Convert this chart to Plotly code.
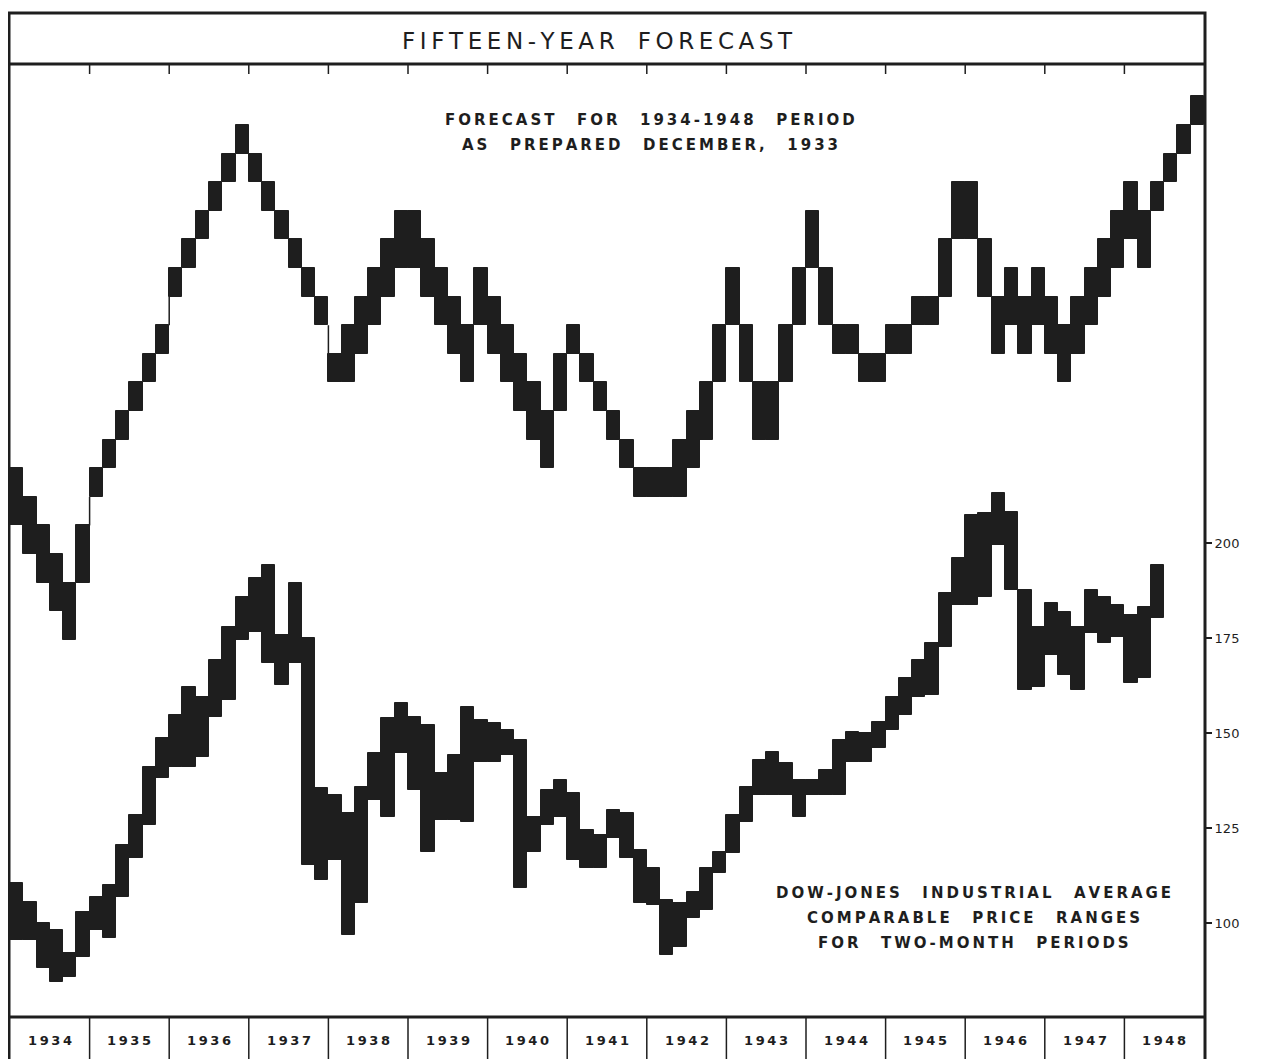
import plotly.graph_objects as go

# --- data ---
years = list(range(1934, 1949))

# forecast drawn in equal "step" units (no scale on the original), high/low per two-month period
fc_high = [6, 5, 4, 3, 2, 4, 6, 7, 8, 9,
           10, 11, 13, 14, 15, 16, 17, 18, 17, 16,
           15, 14, 13, 12, 10, 11, 12, 13, 14, 15,
           15, 14, 13, 12, 11, 13, 12, 11, 10, 9,
           8, 10, 11, 10, 9, 8, 7, 6, 6, 6,
           7, 8, 9, 11, 13, 11, 9, 9, 11, 13,
           15, 13, 11, 11, 10, 10, 11, 11, 12, 12,
           14, 16, 16, 14, 12, 13, 12, 13, 12, 11,
           12, 13, 14, 15, 16, 15, 16, 17, 18, 19]
fc_low = [4, 3, 2, 1, 0, 2, 5, 6, 7, 8,
          9, 10, 12, 13, 14, 15, 16, 17, 16, 15,
          14, 13, 12, 11, 9, 9, 10, 11, 12, 13,
          13, 12, 11, 10, 9, 11, 10, 9, 8, 7,
          6, 8, 10, 9, 8, 7, 6, 5, 5, 5,
          5, 6, 7, 9, 11, 9, 7, 7, 9, 11,
          13, 11, 10, 10, 9, 9, 10, 10, 11, 11,
          12, 14, 14, 12, 10, 11, 10, 11, 10, 9,
          10, 11, 12, 13, 14, 13, 15, 16, 17, 18]

# Dow-Jones Industrial Average, two-month ranges (Jan 1934 - Jun 1948)
dj_high = [110.5, 105.5, 100.0, 98.2, 92.1, 102.9, 106.8, 110.0, 120.5, 128.4,
           141.1, 148.7, 154.7, 162.1, 159.5, 169.2, 177.9, 185.8, 190.8, 194.2,
           175.8, 189.5, 175.0, 135.5, 133.7, 128.9, 135.8, 144.7, 153.9, 157.9,
           154.2, 152.1, 139.5, 144.2, 156.8, 153.4, 152.6, 150.8, 148.2, 127.9,
           135.0, 137.6, 134.2, 124.5, 123.2, 129.7, 128.9, 119.2, 114.5, 106.1,
           105.3, 108.2, 114.5, 118.7, 128.4, 135.8, 142.9, 145.0, 142.1, 137.6,
           137.6, 140.3, 148.2, 150.3, 150.0, 152.9, 159.5, 164.5, 169.2, 173.7,
           186.8, 196.1, 207.4, 207.9, 213.2, 208.2, 187.6, 177.9, 184.2, 181.8,
           177.9, 187.6, 185.8, 183.7, 181.1, 183.2, 194.2]
dj_low = [95.5, 95.5, 88.2, 84.5, 85.8, 91.1, 98.2, 96.1, 106.8, 117.1,
          125.8, 138.2, 141.1, 141.1, 143.7, 154.2, 158.7, 174.5, 176.6, 168.4,
          162.6, 168.4, 115.3, 111.3, 116.6, 96.8, 105.3, 132.4, 127.9, 144.7,
          135.0, 118.7, 127.1, 127.1, 126.6, 142.4, 142.4, 144.2, 109.2, 118.7,
          125.8, 127.9, 116.6, 114.5, 114.5, 122.4, 117.1, 105.3, 104.7, 91.6,
          93.7, 101.3, 103.4, 113.2, 118.4, 126.6, 133.7, 133.7, 133.7, 127.9,
          133.7, 133.7, 133.7, 142.4, 142.4, 146.1, 150.8, 154.7, 159.5, 160.0,
          172.6, 183.7, 183.7, 185.8, 199.5, 187.6, 161.3, 162.1, 170.5, 165.3,
          161.3, 176.3, 173.7, 175.3, 163.2, 164.5, 180.3]

dj_ticks = [100, 125, 150, 175, 200]

# --- page geometry ---
# the page body has an 8px margin, so the figure is shrunk by that and
# positions below are given in screenshot pixels
OFF = 8
W, H = 1264 - OFF, 1059 - OFF
INK = '#1e1e1e'


def fx(px):
    return (px - OFF) / W


def fy(py):
    return 1 - (py - OFF) / H


def spaced(s, gap='\u2009', word='\u2002\u2002\u2002'):
    # imitate the wide hand lettering
    return word.join(gap.join(w) for w in s.split(' '))


# period centres on a year axis
periods = [y + (p + 0.5) / 6 for y in years for p in range(6)]

fig = go.Figure()

fig.add_trace(go.Bar(
    x=periods[:len(fc_high)],
    base=fc_low,
    y=[h - l for h, l in zip(fc_high, fc_low)],
    width=1 / 6, yaxis='y2',
    marker=dict(color=INK, line=dict(width=1, color=INK)),
    name='Forecast', showlegend=False, hoverinfo='skip'
))

# thin connecting strokes where consecutive forecast ranges do not touch
cx, cy = [], []
for i in range(1, len(fc_high)):
    xb = years[0] + i / 6
    if fc_low[i - 1] > fc_high[i]:
        cx += [xb, xb, None]
        cy += [fc_low[i - 1], fc_high[i], None]
    elif fc_high[i - 1] < fc_low[i]:
        cx += [xb, xb, None]
        cy += [fc_high[i - 1], fc_low[i], None]
fig.add_trace(go.Scatter(x=cx, y=cy, mode='lines', yaxis='y2',
                         line=dict(color=INK, width=1.5),
                         showlegend=False, hoverinfo='skip'))

fig.add_trace(go.Bar(
    x=periods[:len(dj_high)],
    base=dj_low,
    y=[h - l for h, l in zip(dj_high, dj_low)],
    width=1 / 6, yaxis='y',
    marker=dict(color=INK, line=dict(width=1, color=INK)),
    name='Dow-Jones', showlegend=False, hoverinfo='skip'
))

shapes = []
# outer frame and rules
shapes.append(dict(type='rect', xref='paper', yref='paper',
                   x0=fx(9), x1=fx(1205), y0=fy(1070), y1=fy(13),
                   line=dict(color=INK, width=3)))
shapes.append(dict(type='line', xref='paper', yref='paper',
                   x0=fx(9), x1=fx(1205), y0=fy(64), y1=fy(64),
                   line=dict(color=INK, width=3)))
shapes.append(dict(type='line', xref='paper', yref='paper',
                   x0=fx(9), x1=fx(1205), y0=fy(1017), y1=fy(1017),
                   line=dict(color=INK, width=3)))
for yr in years[1:]:
    # year dividers in the bottom strip
    shapes.append(dict(type='line', xref='x', yref='paper',
                       x0=yr, x1=yr, y0=fy(1017), y1=fy(1070),
                       line=dict(color=INK, width=1.5)))
    # small ticks under the title bar
    shapes.append(dict(type='line', xref='x', yref='paper',
                       x0=yr, x1=yr, y0=fy(65), y1=fy(74),
                       line=dict(color=INK, width=1.5)))

annotations = []


def label(text, x, y, size, bold=False, xref='paper'):
    annotations.append(dict(text=text, xref=xref, yref='paper', x=x, y=y,
                            xanchor='center', yanchor='middle', showarrow=False,
                            font=dict(family='DejaVu Sans', size=size, color=INK,
                                      weight='bold' if bold else 'normal')))


label(spaced('FIFTEEN-YEAR FORECAST', word='\u2002\u2002'), fx(597), fy(41), 23)

note1 = ['FORECAST FOR 1934-1948 PERIOD', 'AS PREPARED DECEMBER, 1933']
for k, line in enumerate(note1):
    label(spaced(line), fx(650), fy(120 + 25 * k), 15, bold=True)

note2 = ['DOW-JONES INDUSTRIAL AVERAGE', 'COMPARABLE PRICE RANGES', 'FOR TWO-MONTH PERIODS']
for k, line in enumerate(note2):
    label(spaced(line), fx(973), fy(893 + 25 * k), 15, bold=True)

for yr in years:
    label(spaced(str(yr)), yr + 0.5, fy(1040), 13, bold=True, xref='x')

fig.update_layout(
    width=W, height=H,
    margin=dict(l=0, r=0, t=0, b=0),
    paper_bgcolor='white', plot_bgcolor='white',
    barmode='overlay', bargap=0,
    xaxis=dict(domain=[fx(10), fx(1204)], range=[years[0], years[-1] + 1],
               visible=False, fixedrange=True),
    yaxis=dict(domain=[fy(1017), fy(65)], range=[75.26, 325.79],
               side='right', anchor='x', showgrid=False, zeroline=False,
               showline=False, tickvals=dj_ticks, ticks='outside',
               ticklen=7, tickwidth=1.5, tickcolor=INK,
               tickfont=dict(family='DejaVu Sans', size=13, color=INK)),
    yaxis2=dict(overlaying='y', range=[-13.19, 20.10], visible=False),
    shapes=shapes, annotations=annotations,
)

fig.write_html("out.html")
